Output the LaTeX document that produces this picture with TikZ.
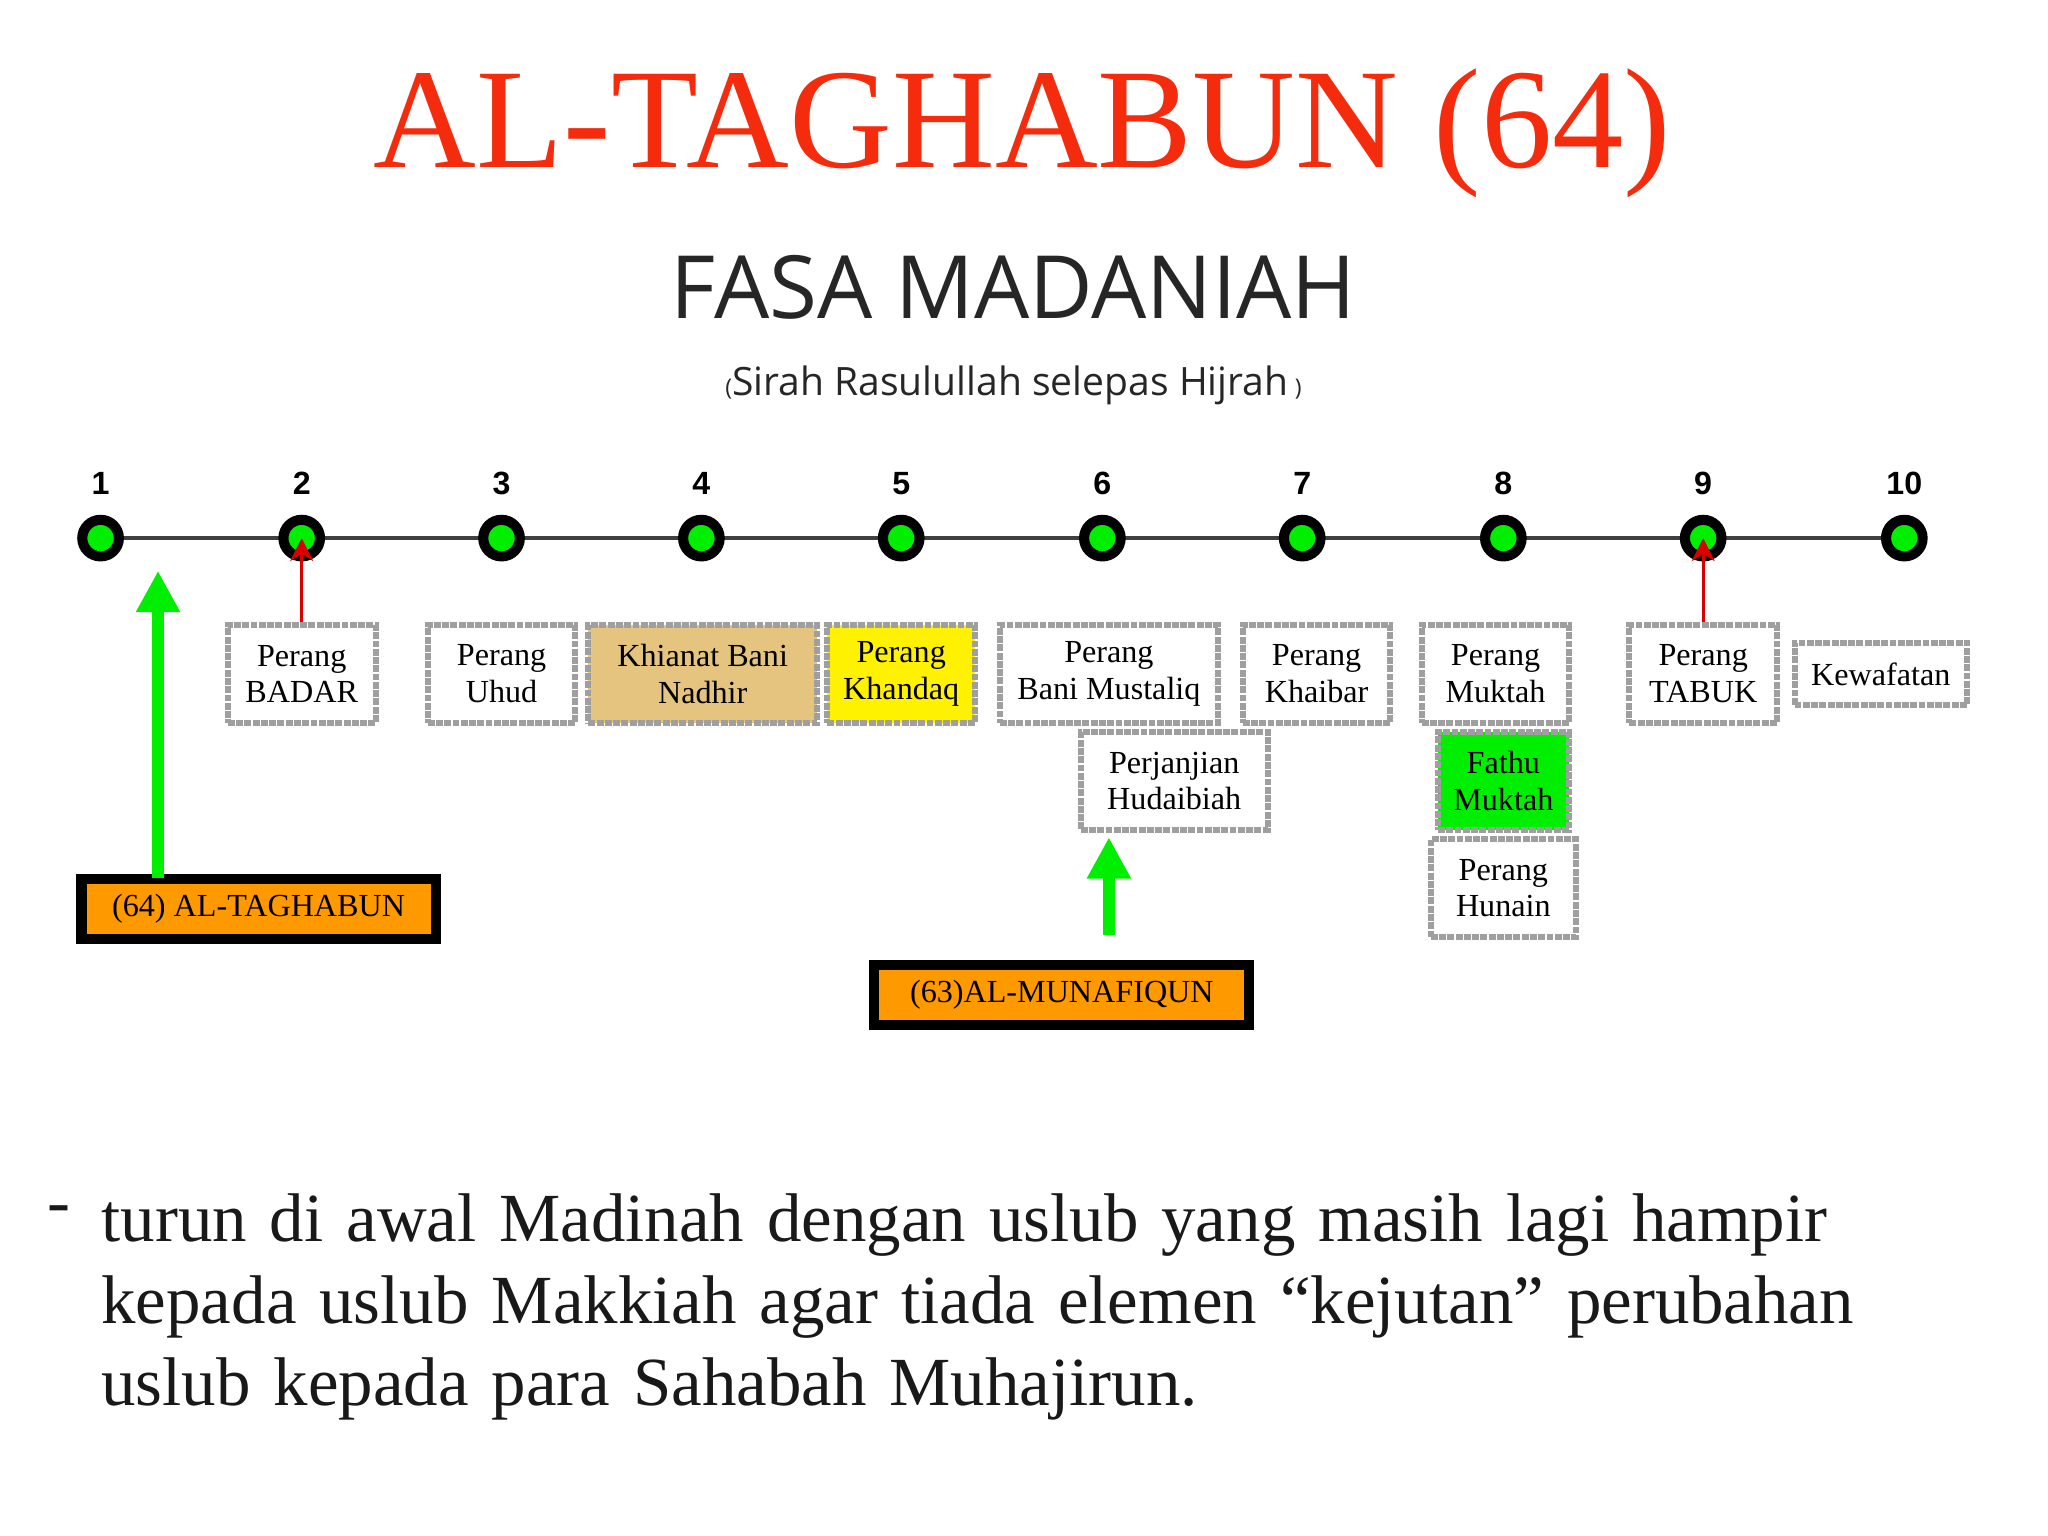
\documentclass[tikz,border=0pt]{standalone}
\usepackage{fontspec}
\setmainfont{Liberation Serif}
\newfontfamily\opensans{Open Sans}
\newfontfamily\libsans{Liberation Sans}
\usetikzlibrary{arrows.meta}
\definecolor{titlered}{HTML}{F42B0C}
\definecolor{tan}{HTML}{E5C47F}
\definecolor{ev}{HTML}{FF9900}
\definecolor{gr}{HTML}{00EE00}
\tikzset{
 dot/.style={circle,draw=black,line width=2.2pt,fill=gr,minimum size=0.28cm,inner sep=0pt},
 evbox/.style={draw=gray!75,line width=1.3pt,dash pattern=on 1.5pt off 0.3pt,fill=white,align=center,font=\fontsize{7}{8}\selectfont,inner sep=0pt},
 surah/.style={draw=black,line width=2.2pt,fill=ev,font=\fontsize{7}{8}\selectfont,inner sep=0pt,minimum height=0.46cm},
 num/.style={font=\libsans\bfseries\fontsize{7}{8}\selectfont},
 redarr/.style={-{Stealth[length=5pt,width=5pt]},draw=red!85!black,line width=0.7pt},
 grarr/.style={-{Triangle[length=9pt,width=9pt]},draw=gr,line width=2.5pt}
}
\begin{document}
\begin{tikzpicture}[x=0.01cm,y=-0.01cm]
\useasboundingbox (0,0) rectangle (1568,1176);
\node[text=titlered,font=\fontsize{31}{33}\selectfont] (title) at (783,102) {AL-TAGHABUN (64)};
\node[font=\opensans\fontsize{19}{21}\selectfont,text=black!85] (fasa) at (776,220) {FASA MADANIAH};
\node[font=\opensans\fontsize{8.5}{10}\selectfont,text=black!85] (sub) at (776,295) {{\tiny(}Sirah Rasulullah selepas Hijrah\,{\tiny)}};
\draw[line width=1pt,black!75] (77,412) -- (1458,412);
\foreach \i/\x in {1/77,2/231,3/384,4/537,5/690,6/844,7/997,8/1151,9/1304,10/1458}{
  \node[dot] (d\i) at (\x,412) {};
  \node[num] (n\i) at (\x,370) {\i};
}
\node[evbox,minimum width=1.13cm,minimum height=0.75cm] (badar) at (231,516) {Perang\\BADAR};
\node[evbox,minimum width=1.13cm,minimum height=0.75cm] (uhud) at (384,516) {Perang\\Uhud};
\node[evbox,fill=tan,minimum width=1.75cm,minimum height=0.75cm] (nadhir) at (538,516) {Khianat Bani\\Nadhir};
\node[evbox,fill=yellow,minimum width=1.13cm,minimum height=0.75cm] (khandaq) at (690,516) {Perang\\Khandaq};
\node[evbox,minimum width=1.67cm,minimum height=0.75cm] (mustaliq) at (849,516) {Perang\\Bani Mustaliq};
\node[evbox,minimum width=1.13cm,minimum height=0.75cm] (khaibar) at (1008,516) {Perang\\Khaibar};
\node[evbox,minimum width=1.13cm,minimum height=0.75cm] (muktah) at (1145,516) {Perang\\Muktah};
\node[evbox,minimum width=1.13cm,minimum height=0.75cm] (tabuk) at (1304,516) {Perang\\TABUK};
\node[evbox,minimum width=1.32cm,minimum height=0.48cm] (wafat) at (1440,516) {Kewafatan};
\node[evbox,minimum width=1.43cm,minimum height=0.75cm] (hudaibiah) at (899,598) {Perjanjian\\Hudaibiah};
\node[evbox,fill=gr,minimum width=1.0cm,minimum height=0.75cm] (fathu) at (1151,598) {Fathu\\Muktah};
\node[evbox,minimum width=1.11cm,minimum height=0.75cm] (hunain) at (1151,680) {Perang\\Hunain};
\draw[redarr] (badar.north) -- (d2.center);
\draw[redarr] (tabuk.north) -- (d9.center);
\node[surah,minimum width=2.71cm] (tag) at (198,696) {(64) AL-TAGHABUN};
\node[surah,minimum width=2.87cm] (mun) at (813,762) {(63)AL-MUNAFIQUN};
\coordinate (tagtop) at (121,437);
\coordinate (muntop) at (849,641);
\coordinate (munbot) at (849,716);
\draw[grarr] (121,672) -- (tagtop);
\draw[grarr] (munbot) -- (muntop);
\node[font=\fontsize{15}{18}\selectfont,text=black!90,inner sep=0pt] (dash) at (45,930) {-};
\node[anchor=north west,font=\fontsize{15}{17.9}\selectfont,text=black!90,text width=15cm,align=left,inner sep=0pt] (body) at (77,913) {turun di awal Madinah dengan uslub yang masih lagi hampir\\kepada uslub Makkiah agar tiada elemen “kejutan” perubahan\\uslub kepada para Sahabah Muhajirun.};
\end{tikzpicture}
\end{document}
